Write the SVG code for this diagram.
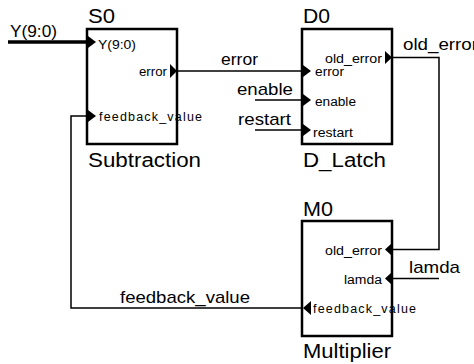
<svg xmlns="http://www.w3.org/2000/svg" width="474" height="364" viewBox="0 0 474 364">
  <style>
    .box { fill: #fff; stroke: #000; stroke-width: 2.5; }
    .wire { fill: none; stroke: #000; stroke-width: 1.5; }
    .bus { fill: none; stroke: #000; stroke-width: 3.5; }
    .pin { fill: #000; stroke: none; }
    text { font-family: "Liberation Sans", Arial, sans-serif; fill: #000; }
    .title { font-size: 20px; }
    .net { font-size: 17px; }
    .port { font-size: 12.5px; }
  </style>

  <rect width="474" height="364" fill="#fff"/>

  <g id="connectors">
    <line class="bus" x1="8" y1="42" x2="88" y2="42"/>
    <line class="wire" x1="177" y1="71" x2="303" y2="71"/>
    <line class="wire" x1="255" y1="100" x2="303" y2="100"/>
    <line class="wire" x1="255" y1="130" x2="303" y2="130"/>
    <polyline class="wire" points="392,57.5 439,57.5 439,249.5 392,249.5"/>
    <line class="wire" x1="392" y1="278.5" x2="439" y2="278.5"/>
    <polyline class="wire" points="303,308 71,308 71,116 88,116"/>
    <text class="net" x="10" y="37" textLength="47" lengthAdjust="spacingAndGlyphs">Y(9:0)</text>
    <text class="net" x="221" y="65" textLength="37" lengthAdjust="spacingAndGlyphs">error</text>
    <text class="net" x="237" y="95" textLength="56" lengthAdjust="spacingAndGlyphs">enable</text>
    <text class="net" x="238" y="125" textLength="53" lengthAdjust="spacingAndGlyphs">restart</text>
    <text class="net" x="403" y="50" textLength="75" lengthAdjust="spacingAndGlyphs">old_error</text>
    <text class="net" x="409" y="273" textLength="51" lengthAdjust="spacingAndGlyphs">lamda</text>
    <text class="net" x="120" y="303" textLength="130" lengthAdjust="spacingAndGlyphs">feedback_value</text>
  </g>

  <g id="S0">
    <rect class="box" x="87" y="29" width="90" height="115"/>
    <text class="title" x="88" y="23" textLength="27" lengthAdjust="spacingAndGlyphs">S0</text>
    <text class="title" x="88" y="167" textLength="113" lengthAdjust="spacingAndGlyphs">Subtraction</text>
    <polygon class="pin" points="88,36 96,42 88,48"/>
    <text class="port" x="98" y="49" textLength="38" lengthAdjust="spacingAndGlyphs">Y(9:0)</text>
    <polygon class="pin" points="170,64 177,71 170,78"/>
    <text class="port" x="167" y="76" text-anchor="end" textLength="28" lengthAdjust="spacingAndGlyphs">error</text>
    <polygon class="pin" points="88,110 96,116 88,122"/>
    <text class="port" x="99" y="121" textLength="103" lengthAdjust="spacing">feedback_value</text>
  </g>

  <g id="D0">
    <rect class="box" x="302" y="29" width="90" height="115"/>
    <text class="title" x="303" y="23" textLength="27" lengthAdjust="spacingAndGlyphs">D0</text>
    <text class="title" x="303" y="167" textLength="83" lengthAdjust="spacingAndGlyphs">D_Latch</text>
    <polygon class="pin" points="385,51 392,57.5 385,64"/>
    <text class="port" x="382" y="63" text-anchor="end" textLength="57" lengthAdjust="spacingAndGlyphs">old_error</text>
    <polygon class="pin" points="303,65 311,71 303,77"/>
    <text class="port" x="315" y="76" textLength="29" lengthAdjust="spacingAndGlyphs">error</text>
    <polygon class="pin" points="303,94 311,100 303,106"/>
    <text class="port" x="315" y="106" textLength="41" lengthAdjust="spacingAndGlyphs">enable</text>
    <polygon class="pin" points="303,124 311,130 303,136"/>
    <text class="port" x="313" y="137" textLength="40" lengthAdjust="spacingAndGlyphs">restart</text>
  </g>

  <g id="M0">
    <rect class="box" x="302" y="221" width="90" height="115"/>
    <text class="title" x="303" y="216" textLength="30" lengthAdjust="spacingAndGlyphs">M0</text>
    <text class="title" x="303" y="358" textLength="88" lengthAdjust="spacingAndGlyphs">Multiplier</text>
    <polygon class="pin" points="392,243 385,249.5 392,256"/>
    <text class="port" x="382" y="255" text-anchor="end" textLength="57" lengthAdjust="spacingAndGlyphs">old_error</text>
    <polygon class="pin" points="392,272 385,278.5 392,285"/>
    <text class="port" x="382" y="284" text-anchor="end" textLength="38" lengthAdjust="spacingAndGlyphs">lamda</text>
    <polygon class="pin" points="311,301 303,308 311,315"/>
    <text class="port" x="313" y="313" textLength="103" lengthAdjust="spacing">feedback_value</text>
  </g>
</svg>
